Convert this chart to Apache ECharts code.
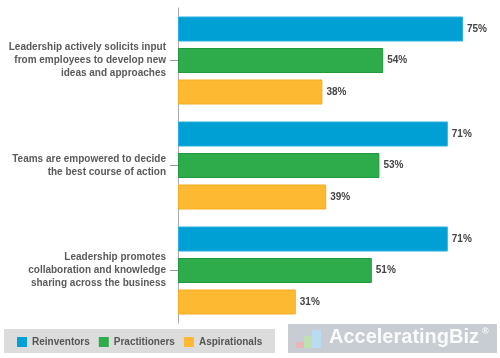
<!DOCTYPE html>
<html>
<head>
<meta charset="utf-8">
<script src="https://cdn.jsdelivr.net/npm/echarts@6/dist/echarts.min.js"></script>
<style>
html,body{margin:0;padding:0;background:#fff;}
#chart{width:500px;height:358px;}
</style>
</head>
<body>
<div id="chart"></div>
<script>
var categories = [
  'Leadership actively solicits input\nfrom employees to develop new\nideas and approaches',
  'Teams are empowered to decide\nthe best course of action',
  'Leadership promotes\ncollaboration and knowledge\nsharing across the business'
];
var seriesNames = ['Reinventors', 'Practitioners', 'Aspirationals'];
var reinventors = [75, 71, 71];
var practitioners = [54, 53, 51];
var aspirationals = [38, 39, 31];

var colors = ['#00a0d4', '#2eab4b', '#fdb931'];
var borders = ['#2aaee0', '#1f9a3c', '#f6ad22'];
var font = '"Liberation Sans", Arial, Helvetica, sans-serif';

var chart = echarts.init(document.getElementById('chart'), null, {renderer: 'canvas'});

function mk(name, data, i) {
  return {
    name: name,
    type: 'bar',
    data: data,
    barWidth: 25,
    barGap: '26%',
    itemStyle: {color: colors[i], borderColor: borders[i], borderWidth: 1},
    label: {
      show: true,
      position: 'right',
      distance: 4,
      formatter: '{c}%',
      color: '#444',
      fontFamily: font,
      fontWeight: 'bold',
      fontSize: 10
    },
    emphasis: {disabled: true},
    animation: false
  };
}

var option = {
  animation: false,
  grid: {left: 178, top: 8, width: 304, bottom: 35, containLabel: false},
  xAxis: {
    type: 'value', min: 0, max: 80,
    show: false
  },
  yAxis: {
    type: 'category',
    inverse: true,
    data: categories,
    axisLine: {show: true, lineStyle: {color: '#aaa', width: 1}},
    axisTick: {show: true, alignWithLabel: true, length: 8, lineStyle: {color: '#999'}},
    axisLabel: {
      margin: 12,
      color: '#5a5a5a',
      fontFamily: font,
      fontWeight: 'bold',
      fontSize: 10,
      lineHeight: 13,
      align: 'right'
    },
    splitLine: {show: false}
  },
  legend: {
    data: seriesNames,
    left: 17,
    top: 337,
    padding: 0,
    itemWidth: 10,
    itemHeight: 10,
    itemGap: 9,
    icon: 'rect',
    itemStyle: {borderWidth: 0},
    textStyle: {color: '#555', fontFamily: font, fontWeight: 'bold', fontSize: 10},
    selectedMode: false
  },
  graphic: [
    {type: 'rect', left: 4, top: 329, shape: {width: 271, height: 24}, style: {fill: '#dcdcdc'}, z: -10},
    {type: 'rect', left: 288, top: 324, shape: {width: 209, height: 29}, style: {fill: '#c7cdd3'}, z: -10},
    {type: 'rect', left: 296, top: 342, shape: {width: 8, height: 6}, style: {fill: '#e8b6b6'}},
    {type: 'rect', left: 304, top: 336, shape: {width: 8, height: 12}, style: {fill: '#bfe0b0'}},
    {type: 'rect', left: 312, top: 330, shape: {width: 9, height: 18}, style: {fill: '#b9dcf0'}},
    {type: 'text', left: 329, top: 327, style: {text: 'AcceleratingBiz', fill: '#ffffff', opacity: 0.92, font: 'bold 20px ' + font}},
    {type: 'text', left: 482, top: 327, style: {text: '®', fill: '#ffffff', opacity: 0.92, font: 'bold 9px ' + font}}
  ],
  series: [
    mk(seriesNames[0], reinventors, 0),
    mk(seriesNames[1], practitioners, 1),
    mk(seriesNames[2], aspirationals, 2)
  ]
};
chart.setOption(option);
</script>
</body>
</html>
